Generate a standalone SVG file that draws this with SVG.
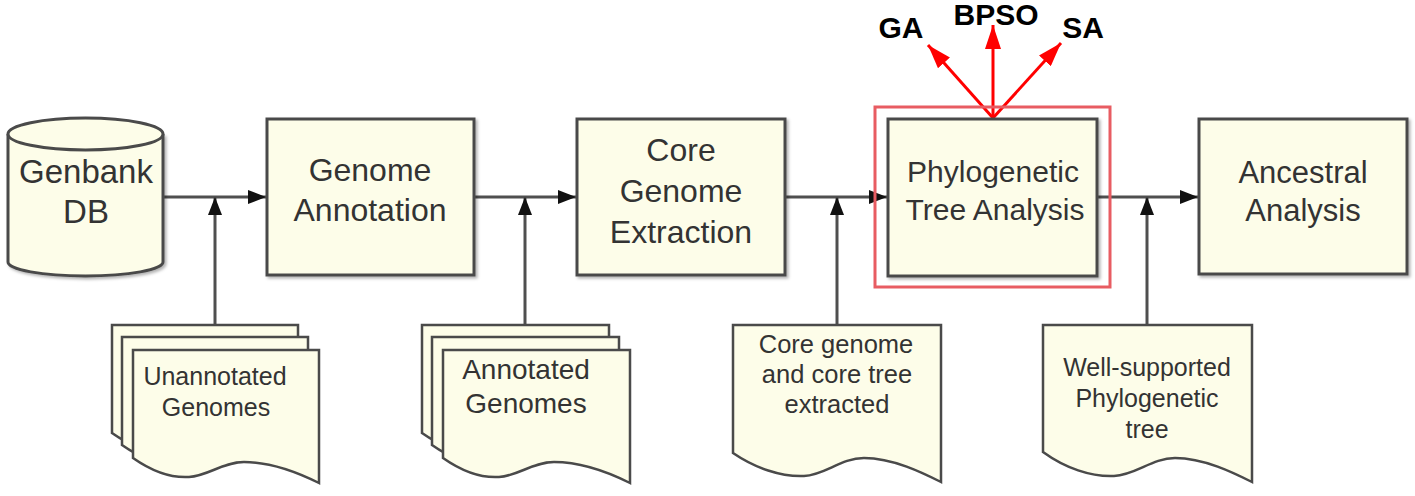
<svg xmlns="http://www.w3.org/2000/svg" width="1415" height="496" viewBox="0 0 1415 496">
<style>
.box{fill:#fdfde9;stroke:#4a4a4a;stroke-width:3;filter:url(#sh)}
.doc{fill:#fdfde9;stroke:#4a4a4a;stroke-width:2.5;stroke-linejoin:miter}
.t{font-family:"Liberation Sans",Arial,sans-serif;fill:#333;text-anchor:middle}
.big{font-size:32px}
.mid{font-size:31px}
.sm{font-size:25px}
.lbl{font-family:"Liberation Sans",Arial,sans-serif;font-weight:bold;font-size:30px;fill:#000;text-anchor:middle}
.con{stroke:#4f4f4f;stroke-width:3;fill:none}
.red{stroke:#ff0000;stroke-width:3;fill:none}
</style>
<defs>
<filter id="sh" x="-10%" y="-10%" width="120%" height="120%">
<feDropShadow dx="2" dy="2" stdDeviation="1.5" flood-color="#000" flood-opacity="0.3"/>
</filter>
<marker id="ah" markerUnits="userSpaceOnUse" markerWidth="20" markerHeight="14" refX="18" refY="7" orient="auto">
<path d="M0,0 L18,7 L0,14 z" fill="#111"/>
</marker>
<marker id="ahr" markerUnits="userSpaceOnUse" markerWidth="26" markerHeight="16" refX="24" refY="8" orient="auto">
<path d="M0,0 L24,8 L0,16 z" fill="#ff0000"/>
</marker>
</defs>
<rect width="1415" height="496" fill="#fff"/>

<g id="connectors">
<line class="con" x1="163" y1="197" x2="266" y2="197" marker-end="url(#ah)"/>
<line class="con" x1="474" y1="197" x2="576" y2="197" marker-end="url(#ah)"/>
<line class="con" x1="785" y1="197" x2="887" y2="197" marker-end="url(#ah)"/>
<line class="con" x1="1097" y1="197" x2="1198" y2="197" marker-end="url(#ah)"/>
<line class="con" x1="215" y1="325" x2="215" y2="197" marker-end="url(#ah)"/>
<line class="con" x1="525" y1="325" x2="525" y2="197" marker-end="url(#ah)"/>
<line class="con" x1="837" y1="325" x2="837" y2="197" marker-end="url(#ah)"/>
<line class="con" x1="1147" y1="325" x2="1147" y2="197" marker-end="url(#ah)"/>
<line class="red" x1="993" y1="118" x2="928" y2="45" marker-end="url(#ahr)"/>
<line class="red" x1="993" y1="118" x2="993" y2="25" marker-end="url(#ahr)"/>
<line class="red" x1="993" y1="118" x2="1061" y2="43" marker-end="url(#ahr)"/>
</g>

<g id="genbank">
<path d="M8,134 V262 A77.5,14 0 0 0 163,262 V134" fill="#fdfde9" stroke="#4a4a4a" stroke-width="3" filter="url(#sh)"/>
<ellipse cx="85.5" cy="134" rx="77.5" ry="16" fill="#fdfde9" stroke="#4a4a4a" stroke-width="3"/>
<text class="t" x="86" y="183" font-size="33">Genbank</text>
<text class="t" x="86" y="223" font-size="33">DB</text>
</g>

<g id="genome-annotation">
<rect class="box" x="267" y="119" width="207" height="156"/>
<text class="t big" x="370" y="181">Genome</text>
<text class="t big" x="370" y="221">Annotation</text>
</g>

<g id="core-genome-extraction">
<rect class="box" x="577" y="119" width="208" height="156"/>
<text class="t big" x="681" y="161">Core</text>
<text class="t big" x="681" y="202">Genome</text>
<text class="t big" x="681" y="243">Extraction</text>
</g>

<g id="phylogenetic">
<rect x="875" y="107" width="235" height="180" fill="none" stroke="#e85c62" stroke-width="3"/>
<rect class="box" x="888" y="119" width="209" height="157"/>
<text class="t" x="993" y="182" font-size="30">Phylogenetic</text>
<text class="t" x="995" y="220" font-size="30">Tree Analysis</text>
</g>

<g id="ancestral-analysis">
<rect class="box" x="1199" y="119" width="208" height="155"/>
<text class="t mid" x="1303" y="183">Ancestral</text>
<text class="t mid" x="1303" y="221">Analysis</text>
</g>

<g id="algorithms">
<text class="lbl" x="901" y="38">GA</text>
<text class="lbl" x="996" y="25">BPSO</text>
<text class="lbl" x="1083" y="38">SA</text>
</g>

<g id="unannotated-genomes">
<path class="doc" transform="translate(112,325)" d="M0,0 H186 V133 C170,125 140,112 111,112 C90,112 75,126 56,127 C40,128 20,122 0,108 Z"/>
<path class="doc" transform="translate(122,337)" d="M0,0 H186 V133 C170,125 140,112 111,112 C90,112 75,126 56,127 C40,128 20,122 0,108 Z"/>
<path class="doc" transform="translate(133,350)" d="M0,0 H186 V133 C170,125 140,112 111,112 C90,112 75,126 56,127 C40,128 20,122 0,108 Z"/>
<text class="t sm" x="215" y="385">Unannotated</text>
<text class="t sm" x="216" y="416">Genomes</text>
</g>

<g id="annotated-genomes">
<path class="doc" transform="translate(422,325)" d="M0,0 H187 V133 C171,125 141,112 111,112 C90,112 75,126 56,127 C40,128 20,122 0,108 Z"/>
<path class="doc" transform="translate(432,337)" d="M0,0 H187 V133 C171,125 141,112 111,112 C90,112 75,126 56,127 C40,128 20,122 0,108 Z"/>
<path class="doc" transform="translate(443,350)" d="M0,0 H187 V133 C171,125 141,112 111,112 C90,112 75,126 56,127 C40,128 20,122 0,108 Z"/>
<text class="t" x="526" y="379" font-size="28">Annotated</text>
<text class="t" x="526" y="413" font-size="28">Genomes</text>
</g>

<g id="core-genome-doc">
<path class="doc" transform="translate(733,325)" d="M0,0 H208 V157 C190,148 160,133 131,133 C108,133 92,150 71,151 C48,152 22,143 0,128 Z"/>
<text class="t" x="836" y="353" font-size="25.5">Core genome</text>
<text class="t" x="837" y="383" font-size="25.5">and core tree</text>
<text class="t" x="837" y="413" font-size="25.5">extracted</text>
</g>

<g id="well-supported-doc">
<path class="doc" transform="translate(1043,325)" d="M0,0 H209 V157 C191,148 161,133 132,133 C109,133 93,150 71,151 C48,152 22,143 0,127 Z"/>
<text class="t" x="1147" y="376" font-size="25">Well-supported</text>
<text class="t" x="1147" y="407" font-size="25">Phylogenetic</text>
<text class="t" x="1147" y="438" font-size="25">tree</text>
</g>
</svg>
